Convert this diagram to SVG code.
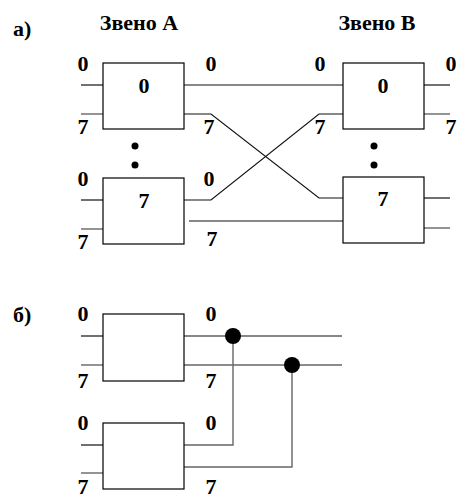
<svg xmlns="http://www.w3.org/2000/svg" width="460" height="500" viewBox="0 0 460 500">
<style>
.box{fill:#fff;stroke:#000;stroke-width:1.2}
.ln{stroke:#111;stroke-width:1.2;fill:none}
.lg{stroke:#666;stroke-width:1.4;fill:none}
text{font-family:"Liberation Serif","Times New Roman",serif;font-weight:bold;font-size:22px;fill:#000}
.t{text-anchor:middle}
</style>
<rect width="460" height="500" fill="#fff"/>
<text x="13" y="36">а)</text>
<text class="t" x="139" y="30">Звено А</text>
<text class="t" x="377" y="30">Звено В</text>
<text x="13" y="322">б)</text>
<g id="connectors">
<line class="ln" x1="81" y1="85" x2="103" y2="85"/>
<line class="lg" x1="81" y1="114" x2="103" y2="114"/>
<line class="ln" x1="81" y1="200" x2="103" y2="200"/>
<line class="lg" x1="81" y1="229" x2="103" y2="229"/>
<line class="ln" x1="184" y1="85" x2="343" y2="85"/>
<polyline class="ln" points="184,114 211,114 319,198 343,198"/>
<polyline class="ln" points="184,200 211,200 319,114 343,114"/>
<line class="ln" x1="189" y1="221" x2="343" y2="221"/>
<line class="ln" x1="424" y1="85" x2="450" y2="85"/>
<line class="lg" x1="424" y1="114" x2="450" y2="114"/>
<line class="ln" x1="424" y1="198" x2="450" y2="198"/>
<line class="lg" x1="424" y1="228" x2="450" y2="228"/>
<line class="ln" x1="81" y1="336" x2="103" y2="336"/>
<line class="lg" x1="81" y1="365" x2="103" y2="365"/>
<line class="ln" x1="81" y1="445" x2="103" y2="445"/>
<line class="lg" x1="81" y1="473" x2="103" y2="473"/>
<line class="ln" x1="184" y1="336" x2="342" y2="336"/>
<line class="lg" x1="184" y1="365" x2="342" y2="365"/>
<polyline class="lg" points="184,445 233,445 233,336"/>
<polyline class="lg" points="184,467 292,467 292,365"/>
<circle cx="233" cy="336" r="8" fill="#000"/>
<circle cx="292" cy="365" r="8" fill="#000"/>
</g>
<g id="boxA0"><rect class="box" x="103" y="63" width="81" height="66"/><text class="t" x="144" y="93">0</text></g>
<g id="boxA7"><rect class="box" x="103" y="178" width="81" height="66"/><text class="t" x="144" y="208">7</text></g>
<g id="boxB0"><rect class="box" x="343" y="63" width="81" height="66"/><text class="t" x="383" y="93">0</text></g>
<g id="boxB7"><rect class="box" x="343" y="177" width="81" height="66"/><text class="t" x="383" y="206">7</text></g>
<g id="boxC1"><rect class="box" x="103" y="314" width="81" height="67"/></g>
<g id="boxC2"><rect class="box" x="103" y="423" width="81" height="66"/></g>
<g id="dots">
<circle cx="135" cy="146" r="3.5" fill="#000"/><circle cx="135" cy="165" r="3.5" fill="#000"/>
<circle cx="374" cy="146" r="3.5" fill="#000"/><circle cx="374" cy="165" r="3.5" fill="#000"/>
</g>
<g id="labels">
<text class="t" x="83" y="71">0</text><text class="t" x="83" y="134">7</text>
<text class="t" x="83" y="186">0</text><text class="t" x="83" y="249">7</text>
<text class="t" x="211" y="71">0</text><text class="t" x="209" y="134">7</text>
<text class="t" x="209" y="186">0</text><text class="t" x="212" y="246">7</text>
<text class="t" x="320" y="71">0</text><text class="t" x="320" y="134">7</text>
<text class="t" x="451" y="71">0</text><text class="t" x="451" y="134">7</text>
<text class="t" x="83" y="321">0</text><text class="t" x="83" y="388">7</text>
<text class="t" x="211" y="321">0</text><text class="t" x="211" y="388">7</text>
<text class="t" x="83" y="430">0</text><text class="t" x="83" y="494">7</text>
<text class="t" x="211" y="430">0</text><text class="t" x="211" y="494">7</text>
</g>
</svg>
